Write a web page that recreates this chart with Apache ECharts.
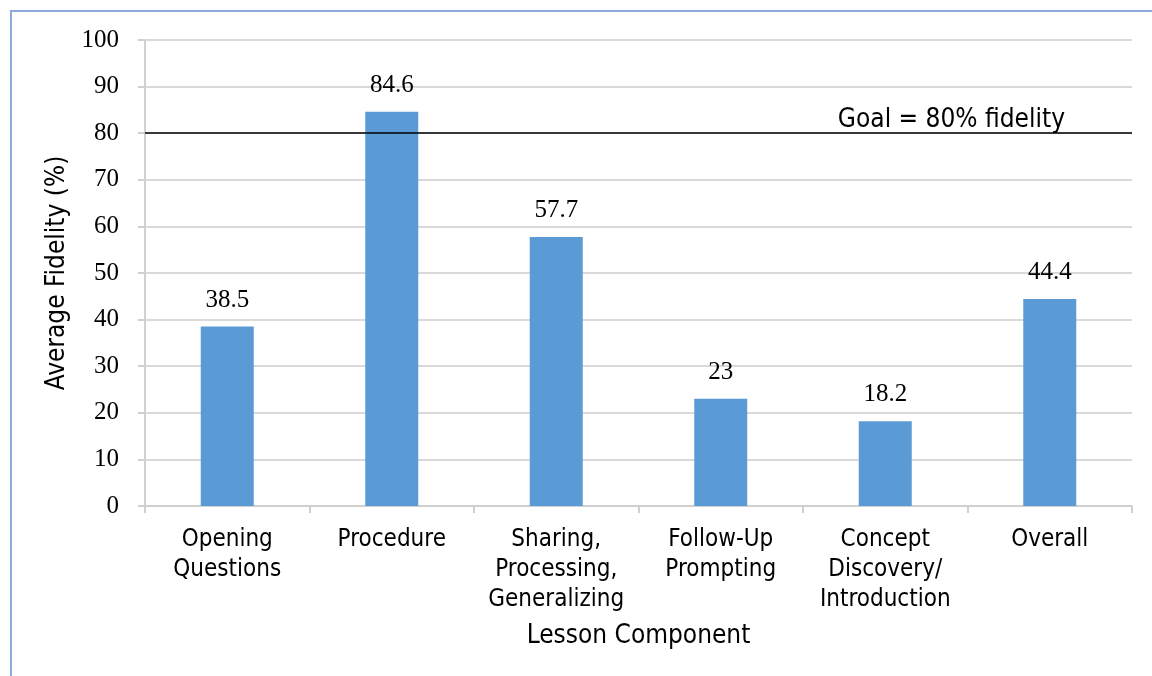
<!DOCTYPE html>
<html>
<head>
<meta charset="utf-8">
<script src="https://cdn.jsdelivr.net/npm/echarts@6/dist/echarts.min.js"></script>
<style>
  html, body { margin: 0; padding: 0; background: #fff; }
  #frame {
    position: absolute; left: 10px; top: 10px;
    width: 1200px; height: 720px;
    border-left: 2px solid #8eaadb; border-top: 2px solid #8eaadb;
  }
  #chart { position: absolute; left: 0; top: 0; width: 1152px; height: 676px; }
</style>
</head>
<body>
<div id="frame"></div>
<div id="chart"></div>
<script>
// lesson components and their average fidelity (%)
var categories = [
    'Opening\nQuestions',
    'Procedure',
    'Sharing,\nProcessing,\nGeneralizing',
    'Follow-Up\nPrompting',
    'Concept\nDiscovery/\nIntroduction',
    'Overall'
];
var fidelity = [38.5, 84.6, 57.7, 23, 18.2, 44.4];
var goal = 80;
var yTicks = { min: 0, max: 100, interval: 10 };

var sans = '"DejaVu Sans Condensed", "DejaVu Sans", sans-serif';
var serif = '"Liberation Serif", "Times New Roman", serif';

var chart = echarts.init(document.getElementById('chart'));
chart.setOption({
    animation: false,
    grid: { left: 145, right: 20, top: 40, bottom: 170 },
    xAxis: {
        type: 'category',
        data: categories,
        name: 'Lesson Component',
        nameLocation: 'middle',
        nameGap: 117,
        nameTextStyle: { fontFamily: sans, fontSize: 26, color: '#000' },
        axisLine: { lineStyle: { color: '#d0d0d0', width: 2 } },
        axisTick: { show: true, length: 7, lineStyle: { color: '#d0d0d0', width: 2 } },
        axisLabel: {
            interval: 0, margin: 19,
            fontFamily: sans, fontSize: 24, lineHeight: 30, color: '#000'
        }
    },
    yAxis: {
        type: 'value',
        min: yTicks.min, max: yTicks.max, interval: yTicks.interval,
        name: 'Average Fidelity (%)',
        nameLocation: 'middle',
        nameGap: 70,
        nameTextStyle: { fontFamily: sans, fontSize: 26, color: '#000' },
        axisLine: { show: true, lineStyle: { color: '#d0d0d0', width: 2 } },
        axisTick: { show: true, length: 7, lineStyle: { color: '#d0d0d0', width: 2 } },
        axisLabel: { margin: 26, fontFamily: serif, fontSize: 25, color: '#000' },
        splitLine: { lineStyle: { color: '#d9d9d9', width: 2 } }
    },
    series: [{
        type: 'bar',
        data: fidelity,
        barWidth: 53,
        itemStyle: { color: '#5b9bd5' },
        label: {
            show: true, position: 'top', distance: 14,
            fontFamily: serif, fontSize: 25, color: '#000'
        },
        markLine: {
            silent: true,
            symbol: 'none',
            lineStyle: { color: '#000', width: 1.5, type: 'solid' },
            label: {
                position: 'insideEndTop',
                distance: 0,
                formatter: 'Goal = ' + goal + '% fidelity',
                fontFamily: sans, fontSize: 26, color: '#000',
                padding: [0, 67, 0, 0]
            },
            data: [{ yAxis: goal }]
        }
    }]
});
</script>
</body>
</html>
